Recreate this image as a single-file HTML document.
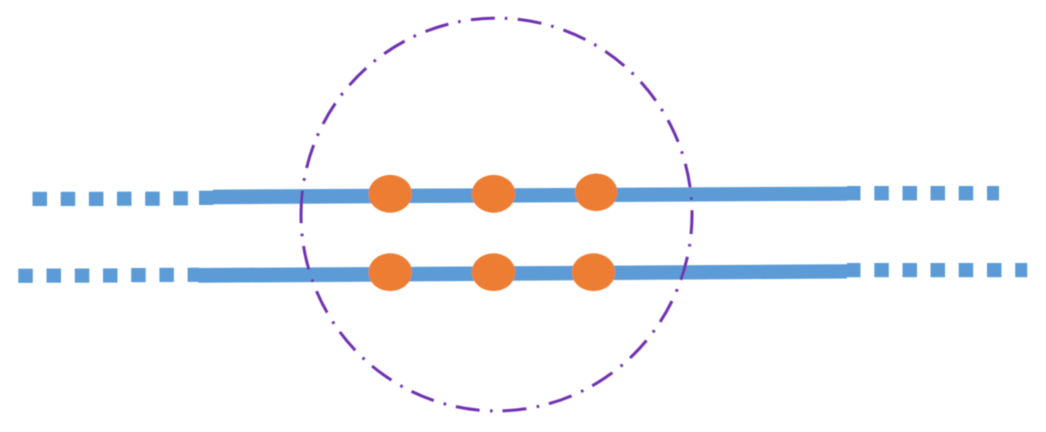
<!DOCTYPE html>
<html><head><meta charset="utf-8"><style>
html,body{margin:0;padding:0;background:#fff;width:1046px;height:432px;overflow:hidden}
svg{display:block}
</style></head><body>
<svg width="1046" height="432" viewBox="0 0 1046 432" xmlns="http://www.w3.org/2000/svg">
<defs><filter id="b" x="-5%" y="-5%" width="110%" height="110%"><feGaussianBlur stdDeviation="0.45"/></filter></defs>
<rect width="1046" height="432" fill="#fff"/>
<g filter="url(#b)">
<g fill="#5b9bd5">
<rect x="32.5" y="191.8" width="14.5" height="14.2"/><rect x="60.7" y="191.8" width="14.5" height="14.2"/><rect x="88.9" y="191.8" width="14.5" height="14.2"/><rect x="117" y="191.6" width="14.5" height="14.2"/><rect x="145.2" y="191.6" width="14.5" height="14.2"/><rect x="173.4" y="191.2" width="14.5" height="14.2"/>
<rect x="199" y="190.7" width="14.5" height="14.3"/>
<polygon points="213,189.6 847,186.6 847,200.7 213,204.2"/>
<rect x="18.3" y="268.7" width="14.5" height="14.2"/><rect x="46.5" y="268.5" width="14.5" height="14.2"/><rect x="74.8" y="268.5" width="14.5" height="14.2"/><rect x="103" y="268.4" width="14.5" height="14.2"/><rect x="131.2" y="268" width="14.5" height="14.2"/><rect x="159.4" y="267.8" width="14.5" height="14.2"/><rect x="187.6" y="267.7" width="11.5" height="14.2"/>
<polygon points="198.5,268 847,264.3 847,278.5 198.5,282.8"/>
<rect x="847" y="186" width="13.5" height="14.4"/><rect x="874.3" y="186" width="14.5" height="14.4"/><rect x="902.5" y="186" width="14.5" height="14.4"/><rect x="930.5" y="186" width="14.5" height="14.4"/><rect x="958.7" y="186" width="14.5" height="14.4"/><rect x="987" y="186" width="12" height="14.4"/>
<rect x="847" y="263" width="13.5" height="14.2"/><rect x="874.3" y="263" width="14.5" height="14.2"/><rect x="902.5" y="263" width="14.5" height="14.2"/><rect x="930.5" y="263" width="14.5" height="14.2"/><rect x="958.7" y="263" width="14.5" height="14.2"/><rect x="987" y="263" width="14.5" height="14.2"/><rect x="1015.2" y="263" width="12" height="14.2"/>
</g>
<path d="M301 214.5 A195.5 196.5 0 0 1 692 214.5 A195.5 196.5 0 0 1 301 214.5" fill="none" stroke="#7030b0" stroke-width="3" stroke-dasharray="24 10 2.6 10.4"/>
<g fill="#ed7d31">
<ellipse cx="390.2" cy="193.8" rx="21.8" ry="18.9"/><ellipse cx="493.5" cy="193.8" rx="21.8" ry="18.9"/><ellipse cx="596.2" cy="192.3" rx="21.2" ry="18.8"/>
<ellipse cx="390.2" cy="272.2" rx="21.8" ry="18.9"/><ellipse cx="493.5" cy="272.2" rx="21.8" ry="18.9"/><ellipse cx="593.5" cy="272.2" rx="21.8" ry="18.9"/>
</g>
</g>
</svg>
</body></html>
